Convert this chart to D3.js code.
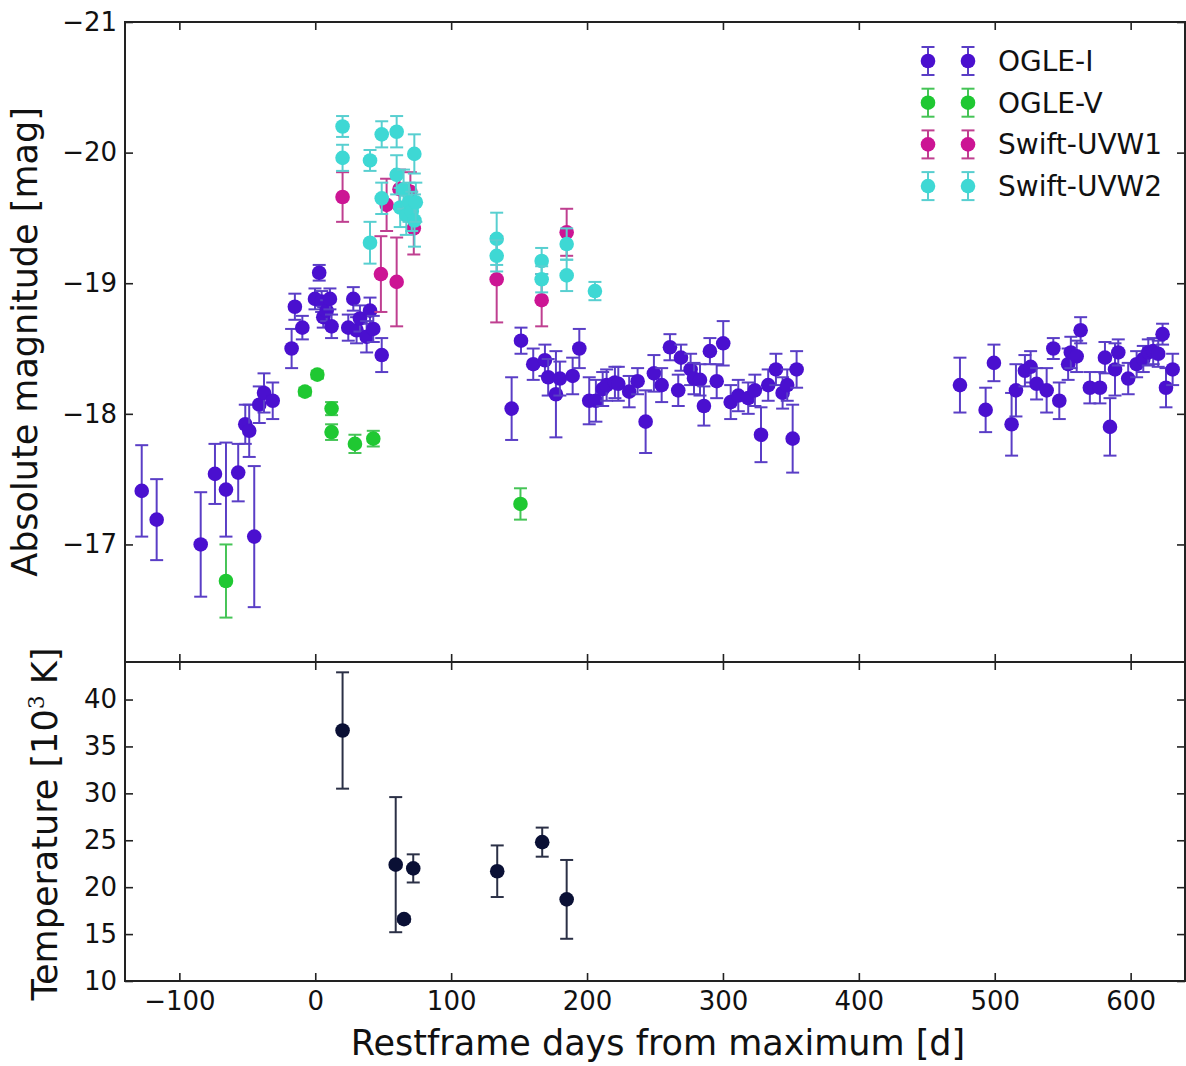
<!DOCTYPE html>
<html>
<head>
<meta charset="utf-8">
<script src="https://cdn.jsdelivr.net/npm/d3@7/dist/d3.min.js"></script>
<style>
  body { margin: 0; background: #fff; }
  svg text { font-family: "DejaVu Sans", sans-serif; fill: #111; }
</style>
</head>
<body>
<svg id="chart" width="1186" height="1066"></svg>
<script>
// [day, value, error]
const ogleI = [
  [-127.7, -17.41, 0.35], [-116.7, -17.19, 0.31], [-84.3, -17.00, 0.40], [-73.8, -17.54, 0.23],
  [-65.7, -17.42, 0.36], [-56.7, -17.55, 0.22], [-51.5, -17.92, 0.15], [-48.6, -17.87, 0.20],
  [-44.9, -17.06, 0.54], [-41.2, -18.07, 0.14], [-37.7, -18.16, 0.15], [-31.3, -18.10, 0.14],
  [-17.4, -18.50, 0.15], [-15.0, -18.82, 0.10], [-9.5, -18.66, 0.09], [-0.2, -18.88, 0.08],
  [2.9, -19.08, 0.06], [4.7, -18.86, 0.08], [5.9, -18.74, 0.08], [8.4, -18.79, 0.08],
  [10.8, -18.88, 0.08], [12.0, -18.67, 0.09], [24.3, -18.66, 0.10], [28.0, -18.88, 0.09],
  [30.4, -18.64, 0.10], [32.9, -18.73, 0.10], [37.8, -18.59, 0.12], [40.3, -18.79, 0.10],
  [42.7, -18.65, 0.10], [48.9, -18.45, 0.13],
  [144.5, -18.04, 0.24], [151.4, -18.56, 0.10], [160.4, -18.38, 0.12], [169.0, -18.41, 0.12],
  [171.4, -18.28, 0.14], [177.1, -18.15, 0.33], [180.0, -18.27, 0.13], [189.4, -18.29, 0.14],
  [194.3, -18.50, 0.15], [201.6, -18.10, 0.18], [206.5, -18.10, 0.16], [211.5, -18.19, 0.13],
  [214.4, -18.22, 0.12], [220.5, -18.24, 0.12], [223.0, -18.23, 0.13], [231.0, -18.17, 0.12],
  [237.2, -18.25, 0.10], [243.1, -17.94, 0.24], [249.2, -18.31, 0.14], [254.9, -18.22, 0.13],
  [261.0, -18.51, 0.10], [267.1, -18.18, 0.12], [269.1, -18.43, 0.10], [276.2, -18.34, 0.12],
  [278.7, -18.27, 0.12], [283.1, -18.26, 0.12], [286.0, -18.06, 0.15], [290.4, -18.48, 0.10],
  [295.4, -18.25, 0.13], [300.2, -18.54, 0.17], [305.7, -18.09, 0.13], [311.3, -18.14, 0.12],
  [318.6, -18.12, 0.12], [323.5, -18.18, 0.12], [328.0, -17.84, 0.21], [333.3, -18.22, 0.12],
  [339.0, -18.34, 0.12], [343.9, -18.16, 0.12], [347.3, -18.22, 0.12], [351.3, -17.81, 0.26],
  [354.2, -18.34, 0.14],
  [474.4, -18.22, 0.21], [493.3, -18.03, 0.17], [499.4, -18.39, 0.14], [512.4, -17.92, 0.24],
  [515.6, -18.18, 0.20], [522.2, -18.33, 0.12], [526.4, -18.36, 0.12], [530.8, -18.23, 0.12],
  [538.2, -18.18, 0.17], [543.1, -18.50, 0.08], [547.5, -18.10, 0.14], [554.0, -18.38, 0.12],
  [556.0, -18.47, 0.12], [560.3, -18.44, 0.12], [563.2, -18.64, 0.10], [570.0, -18.20, 0.12],
  [577.4, -18.20, 0.12], [581.1, -18.43, 0.12], [584.8, -17.90, 0.22], [588.5, -18.34, 0.20],
  [590.9, -18.47, 0.10], [598.2, -18.27, 0.12], [604.4, -18.38, 0.10], [609.3, -18.42, 0.10],
  [613.0, -18.47, 0.10], [616.6, -18.48, 0.10], [620.3, -18.46, 0.10], [623.5, -18.61, 0.08],
  [626.0, -18.20, 0.15], [630.9, -18.34, 0.12]
];

const ogleV = [
  [-65.7, -16.72, 0.28], [-7.6, -18.17, 0.03], [1.5, -18.30, 0.03], [12.0, -18.04, 0.05],
  [12.0, -17.86, 0.06], [29.2, -17.77, 0.07], [42.7, -17.81, 0.06], [151.0, -17.31, 0.12]
];

const uvw1 = [
  [20.1, -19.66, 0.19], [48.3, -19.07, 0.29], [52.5, -19.60, 0.20], [59.9, -19.01, 0.34],
  [62.0, -19.72, 0.15], [70.0, -19.70, 0.15], [72.5, -19.42, 0.20], [133.5, -19.03, 0.33],
  [166.6, -18.87, 0.20], [185.0, -19.39, 0.18]
];

const uvw2 = [
  [20.1, -20.20, 0.08], [20.1, -19.96, 0.10], [40.3, -19.94, 0.08], [40.3, -19.31, 0.16],
  [48.9, -20.14, 0.10], [48.9, -19.65, 0.12], [59.9, -20.16, 0.12], [59.9, -19.83, 0.15],
  [62.5, -19.58, 0.15], [65.0, -19.72, 0.15], [67.0, -19.52, 0.15], [69.0, -19.62, 0.15],
  [71.0, -19.55, 0.15], [72.9, -19.99, 0.15], [73.0, -19.48, 0.20], [74.0, -19.62, 0.15],
  [133.5, -19.34, 0.20], [133.5, -19.21, 0.12], [166.6, -19.17, 0.10], [166.6, -19.03, 0.10],
  [185.0, -19.30, 0.12], [185.0, -19.06, 0.12], [205.8, -18.94, 0.07]
];

const temperature = [
  [20.1, 36.7, 6.2], [59.2, 22.4, 7.2], [65.3, 16.6, 0.3], [72.1, 22.0, 1.5],
  [133.9, 21.7, 2.75], [167.0, 24.8, 1.55], [185.0, 18.7, 4.2]
];

const xTicks = [-100, 0, 100, 200, 300, 400, 500, 600];
const magTicks = [-21, -20, -19, -18, -17];
const tempTicks = [10, 15, 20, 25, 30, 35, 40];

const series = [
  { name: "OGLE-I", data: ogleI, fill: "#4a10cf", bar: "#5a3ec6" },
  { name: "OGLE-V", data: ogleV, fill: "#1fc832", bar: "#45c456" },
  { name: "Swift-UVW1", data: uvw1, fill: "#cc1594", bar: "#bf3f90" },
  { name: "Swift-UVW2", data: uvw2, fill: "#3ed8d4", bar: "#58cfd0" }
];

const L = 125, R = 1185, T = 22, MID = 662, B = 981;
const svg = d3.select("#chart");

const x = d3.scaleLinear().domain([-140, 640]).range([L, R]);
const yMag = d3.scaleLinear().domain([-21, -16.1]).range([T, MID]);
const yTemp = d3.scaleLinear().domain([10, 44]).range([B, MID]);

const fmt = d3.format("d");

function drawAxes(y, ticks, top, bottom, showX) {
  const tick = 8;
  svg.append("g").attr("transform", `translate(${L},0)`)
    .call(d3.axisLeft(y).tickValues(ticks).tickFormat(fmt).tickSize(-tick).tickPadding(8));
  svg.append("g").attr("transform", `translate(${R},0)`)
    .call(d3.axisRight(y).tickValues(ticks).tickFormat("").tickSize(-tick));
  svg.append("g").attr("transform", `translate(0,${top})`)
    .call(d3.axisTop(x).tickValues(xTicks).tickFormat("").tickSize(-tick));
  svg.append("g").attr("transform", `translate(0,${bottom})`)
    .call(d3.axisBottom(x).tickValues(xTicks).tickFormat(showX ? fmt : "").tickSize(-tick).tickPadding(11));
  svg.selectAll(".domain").remove();
  svg.selectAll(".tick line").attr("stroke", "#222").attr("stroke-width", 1.6);
  svg.selectAll(".tick text").style("font-size", "26px").attr("fill", "#111");
  svg.append("rect").attr("x", L).attr("y", top).attr("width", R - L).attr("height", bottom - top)
    .attr("fill", "none").attr("stroke", "#222").attr("stroke-width", 2);
}

function drawErr(g, data, y, fill, bar, r) {
  const cap = 6.5;
  const pts = g.selectAll(null).data(data).enter().append("g");
  pts.append("line")
    .attr("x1", d => x(d[0])).attr("x2", d => x(d[0]))
    .attr("y1", d => y(d[1] - d[2])).attr("y2", d => y(d[1] + d[2]))
    .attr("stroke", bar).attr("stroke-width", 2);
  pts.append("line")
    .attr("x1", d => x(d[0]) - cap).attr("x2", d => x(d[0]) + cap)
    .attr("y1", d => y(d[1] - d[2])).attr("y2", d => y(d[1] - d[2]))
    .attr("stroke", bar).attr("stroke-width", 2);
  pts.append("line")
    .attr("x1", d => x(d[0]) - cap).attr("x2", d => x(d[0]) + cap)
    .attr("y1", d => y(d[1] + d[2])).attr("y2", d => y(d[1] + d[2]))
    .attr("stroke", bar).attr("stroke-width", 2);
  pts.append("circle")
    .attr("cx", d => x(d[0])).attr("cy", d => y(d[1])).attr("r", r)
    .attr("fill", fill);
}

// top panel
const gTop = svg.append("g");
series.forEach(s => drawErr(gTop.append("g"), s.data, yMag, s.fill, s.bar, 7.3));

// bottom panel
drawErr(svg.append("g"), temperature, yTemp, "#0a1035", "#2b3046", 7.3);

drawAxes(yMag, magTicks, T, MID, false);
drawAxes(yTemp, tempTicks, MID, B, true);

// legend
const leg = svg.append("g");
series.forEach((s, i) => {
  const cy = 61 + i * 41.7;
  [928, 968].forEach(cx => {
    leg.append("line").attr("x1", cx).attr("x2", cx).attr("y1", cy - 14).attr("y2", cy + 14)
      .attr("stroke", s.bar).attr("stroke-width", 2);
    [cy - 14, cy + 14].forEach(yy => leg.append("line")
      .attr("x1", cx - 6.5).attr("x2", cx + 6.5).attr("y1", yy).attr("y2", yy)
      .attr("stroke", s.bar).attr("stroke-width", 2));
    leg.append("circle").attr("cx", cx).attr("cy", cy).attr("r", 7.3).attr("fill", s.fill);
  });
  leg.append("text").attr("x", 998).attr("y", cy + 10).style("font-size", "28px").text(s.name);
});

// axis labels
svg.append("text").attr("x", 658).attr("y", 1055).attr("text-anchor", "middle")
  .style("font-size", "35px").text("Restframe days from maximum [d]");

svg.append("text").attr("transform", "translate(37,342) rotate(-90)").attr("text-anchor", "middle")
  .style("font-size", "35px").text("Absolute magnitude [mag]");

const tl = svg.append("text").attr("transform", "translate(57,824) rotate(-90)").attr("text-anchor", "middle")
  .style("font-size", "35px");
tl.append("tspan").text("Temperature [10");
tl.append("tspan").attr("dy", -13).style("font-size", "22px").style("font-family", "DejaVu Serif").text("3");
tl.append("tspan").attr("dy", 13).text(" K]");
</script>
</body>
</html>
